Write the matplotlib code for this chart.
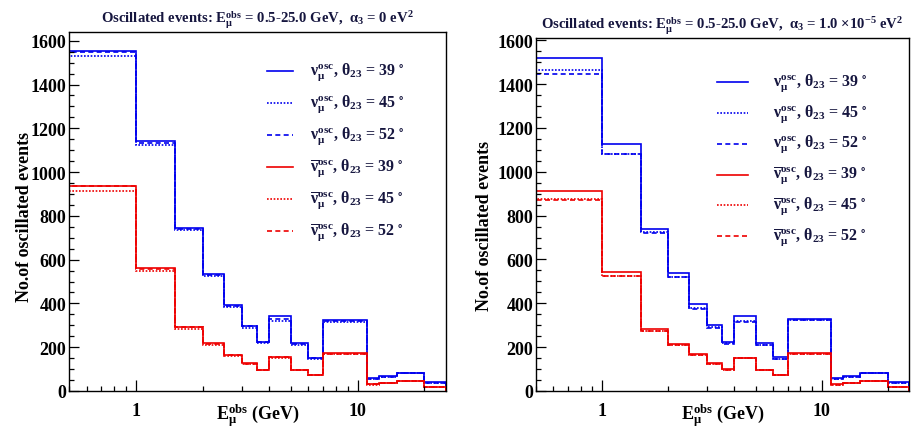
import matplotlib
matplotlib.use("Agg")
import matplotlib.pyplot as plt
from matplotlib.ticker import LogLocator, FixedLocator, NullFormatter, FixedFormatter, MultipleLocator

plt.rcParams['font.family'] = ['Liberation Serif', 'DejaVu Serif']
plt.rcParams['font.weight'] = 'bold'
plt.rcParams['mathtext.fontset'] = 'custom'
plt.rcParams['mathtext.rm'] = 'Liberation Serif:bold'
plt.rcParams['mathtext.it'] = 'Liberation Serif:bold'
plt.rcParams['mathtext.bf'] = 'Liberation Serif:bold'
plt.rcParams['mathtext.fallback'] = 'stix'

# bin edges in E_mu^obs (GeV)
edges = [0.5, 1, 1.5, 2, 2.5, 3, 3.5, 4, 5, 6, 7, 11, 12.5, 15, 20, 25]

# alpha_3 = 0
nu39_a0 = [1555, 1142, 744, 536, 393, 299, 223, 342, 219, 153, 323, 58, 67, 82, 39]
nu45_a0 = [1529, 1123, 736, 527, 384, 290, 220, 319, 209, 147, 317, 55, 65, 80, 38]
nu52_a0 = [1549, 1135, 740, 530, 388, 295, 222, 330, 214, 150, 320, 57, 66, 81, 38]
bar39_a0 = [937, 560, 293, 217, 165, 126, 97, 155, 96, 73, 172, 30, 36, 46, 20]
bar45_a0 = [915, 550, 285, 212, 162, 123, 95, 152, 94, 71, 170, 29, 35, 45, 19]
bar52_a0 = [935, 558, 291, 215, 164, 125, 96, 154, 95, 72, 171, 30, 36, 46, 20]

# alpha_3 = 1e-5 eV^2
nu39_a1 = [1518, 1125, 739, 536, 396, 299, 223, 342, 219, 156, 329, 58, 67, 82, 39]
nu45_a1 = [1466, 1082, 724, 521, 378, 290, 217, 317, 211, 147, 323, 55, 65, 80, 38]
nu52_a1 = [1447, 1080, 722, 519, 376, 288, 216, 316, 210, 146, 322, 55, 65, 80, 38]
bar39_a1 = [911, 545, 285, 216, 167, 126, 99, 152, 96, 73, 173, 30, 38, 47, 20]
bar45_a1 = [877, 525, 275, 209, 164, 124, 97, 150, 95, 72, 171, 29, 37, 46, 19]
bar52_a1 = [870, 524, 273, 208, 164, 124, 97, 150, 95, 72, 171, 29, 37, 46, 19]

labels = [r"$\nu_{\mu}^{osc}$, $\theta_{23}$ = 39 $^{\circ}$",
          r"$\nu_{\mu}^{osc}$, $\theta_{23}$ = 45 $^{\circ}$",
          r"$\nu_{\mu}^{osc}$, $\theta_{23}$ = 52 $^{\circ}$",
          r"$\overline{\nu}_{\mu}^{osc}$, $\theta_{23}$ = 39 $^{\circ}$",
          r"$\overline{\nu}_{\mu}^{osc}$, $\theta_{23}$ = 45 $^{\circ}$",
          r"$\overline{\nu}_{\mu}^{osc}$, $\theta_{23}$ = 52 $^{\circ}$"]
colors = ['#0000ee', '#0000ee', '#0000ee', '#ee0000', '#ee0000', '#ee0000']
styles = ['-', (0, (1, 1)), (0, (3, 2)), '-', (0, (1, 1)), (0, (3, 2))]

titles = [r"Oscillated events: E$^{obs}_{\mu}$ = 0.5-25.0 GeV,  $\alpha_{3}$ = 0 eV$^{2}$",
          r"Oscillated events: E$^{obs}_{\mu}$ = 0.5-25.0 GeV,  $\alpha_{3}$ = 1.0 $\times$10$^{-5}$ eV$^{2}$"]

navy = '#16163f'

fig = plt.figure(figsize=(9.13, 4.31), dpi=100)
ax1 = fig.add_axes([0.0756, 0.0905, 0.4129, 0.8329])
ax2 = fig.add_axes([0.5871, 0.0905, 0.4085, 0.8190])

panels = [
    (ax1, [nu39_a0, nu45_a0, nu52_a0, bar39_a0, bar45_a0, bar52_a0], 1640, 0.891, 0.0891,
     (0.525, 0.594, 0.639), (-0.095, 0.487)),
    (ax2, [nu39_a1, nu45_a1, nu52_a1, bar39_a1, bar45_a1, bar52_a1], 1610, 0.875, 0.0873,
     (0.485, 0.568, 0.635), (-0.115, 0.47)),
]

for i, (ax, series, ymax, ly0, ldy, lx, ylab_xy) in enumerate(panels):
    for vals, c, ls in zip(series, colors, styles):
        ax.stairs(vals, edges, color=c, linestyle=ls, linewidth=1.2)
    ax.set_xscale('log')
    ax.set_xlim(0.5, 25)
    ax.set_ylim(0, ymax)

    ax.xaxis.set_major_locator(FixedLocator([1, 10]))
    ax.xaxis.set_major_formatter(FixedFormatter(['1', '10']))
    ax.xaxis.set_minor_locator(LogLocator(base=10, subs=range(2, 10)))
    ax.xaxis.set_minor_formatter(NullFormatter())
    ax.yaxis.set_major_locator(MultipleLocator(200))
    ax.yaxis.set_minor_locator(MultipleLocator(50))

    ax.tick_params(which='both', direction='in', top=False, right=False, width=0.9)
    ax.tick_params(axis='x', which='major', length=8, pad=8, labelsize=13)
    ax.tick_params(axis='x', which='minor', length=3.5)
    ax.tick_params(axis='y', which='major', length=7, pad=2, labelsize=13)
    ax.tick_params(axis='y', which='minor', length=3.5)
    for sp in ax.spines.values():
        sp.set_linewidth(1.0)

    ax.set_xlabel(r"E$^{obs}_{\mu}$ (GeV)", fontsize=13, fontweight='bold')
    ax.xaxis.set_label_coords(0.5, -0.03)
    ax.set_ylabel("No.of oscillated events", fontsize=13, fontweight='bold')
    ax.yaxis.set_label_coords(*ylab_xy)
    ax.set_title(titles[i], fontsize=10.6, fontweight='bold', color=navy, pad=6.5)

    # legend drawn by hand in axes coordinates
    for k in range(6):
        y = ly0 - k * ldy
        ax.plot([lx[0], lx[1]], [y, y], transform=ax.transAxes, color=colors[k],
                linestyle=styles[k], linewidth=1.2)
        ax.text(lx[2], y, labels[k], transform=ax.transAxes, fontsize=11.5,
                color=navy, va='center', ha='left')

fig.savefig("out.png", dpi=100)
